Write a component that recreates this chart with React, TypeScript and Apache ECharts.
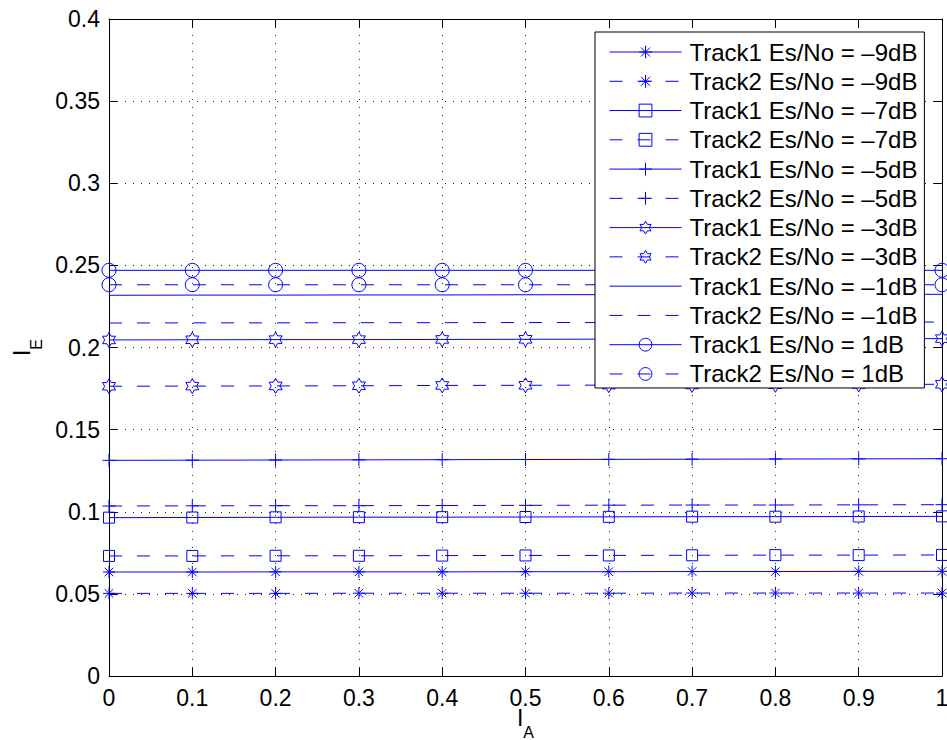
import React, { useEffect, useRef } from 'react';
import * as echarts from 'echarts';

// ---------- data ----------
const IA = [0, 0.1, 0.2, 0.3, 0.4, 0.5, 0.6, 0.7, 0.8, 0.9, 1];

const track1_m9 = [0.0633, 0.0633, 0.0634, 0.0634, 0.0634, 0.0635, 0.0635, 0.0636, 0.0636, 0.0637, 0.0637];
const track2_m9 = [0.0503, 0.0503, 0.0503, 0.0504, 0.0504, 0.0504, 0.0504, 0.0505, 0.0505, 0.0505, 0.0505];
const track1_m7 = [0.0964, 0.0965, 0.0966, 0.0967, 0.0967, 0.0968, 0.0969, 0.097, 0.097, 0.0971, 0.0972];
const track2_m7 = [0.0731, 0.0731, 0.0732, 0.0732, 0.0733, 0.0734, 0.0734, 0.0735, 0.0736, 0.0736, 0.0737];
const track1_m5 = [0.1313, 0.1314, 0.1315, 0.1316, 0.1317, 0.1318, 0.1319, 0.132, 0.1321, 0.1322, 0.1323];
const track2_m5 = [0.1035, 0.1036, 0.1037, 0.1037, 0.1038, 0.1039, 0.104, 0.1041, 0.1041, 0.1042, 0.1043];
const track1_m3 = [0.2046, 0.2047, 0.2048, 0.2048, 0.2049, 0.205, 0.2051, 0.2052, 0.2052, 0.2053, 0.2054];
const track2_m3 = [0.1764, 0.1765, 0.1766, 0.1767, 0.1769, 0.177, 0.1771, 0.1772, 0.1773, 0.1775, 0.1776];
const track1_m1 = [0.2318, 0.2319, 0.2319, 0.232, 0.232, 0.2321, 0.2322, 0.2322, 0.2323, 0.2323, 0.2324];
const track2_m1 = [0.2149, 0.215, 0.215, 0.2151, 0.2151, 0.2152, 0.2152, 0.2153, 0.2154, 0.2154, 0.2155];
const track1_p1 = [0.247, 0.247, 0.247, 0.247, 0.247, 0.247, 0.247, 0.247, 0.247, 0.247, 0.247];
const track2_p1 = [0.2382, 0.2382, 0.2382, 0.2382, 0.2382, 0.2382, 0.2382, 0.2382, 0.2382, 0.2382, 0.2382];

const seriesNames = [
  'Track1 Es/No = –9dB',
  'Track2 Es/No = –9dB',
  'Track1 Es/No = –7dB',
  'Track2 Es/No = –7dB',
  'Track1 Es/No = –5dB',
  'Track2 Es/No = –5dB',
  'Track1 Es/No = –3dB',
  'Track2 Es/No = –3dB',
  'Track1 Es/No = –1dB',
  'Track2 Es/No = –1dB',
  'Track1 Es/No = 1dB',
  'Track2 Es/No = 1dB',
];
const seriesValues = [
  track1_m9, track2_m9, track1_m7, track2_m7, track1_m5, track2_m5,
  track1_m3, track2_m3, track1_m1, track2_m1, track1_p1, track2_p1,
];

// ---------- marker shapes ----------
const ASTERISK = 'path://M6 0L6 12M0 6L12 6M1.76 1.76L10.24 10.24M10.24 1.76L1.76 10.24';
const PLUS = 'path://M6 0L6 12M0 6L12 6';
function hexagramPath(): string {
  const R = 10;
  const r = R / Math.sqrt(3);
  const cx = 10;
  const cy = 10;
  const pts: string[] = [];
  for (let k = 0; k < 12; k++) {
    const ang = ((-90 + k * 30) * Math.PI) / 180;
    const rad = k % 2 === 0 ? R : r;
    pts.push(`${(cx + rad * Math.cos(ang)).toFixed(3)} ${(cy + rad * Math.sin(ang)).toFixed(3)}`);
  }
  // leading moves keep the bounding box square
  return `path://M0 10M20 10M${pts[0]}` + pts.slice(1).map((p) => `L${p}`).join('') + 'Z';
}
const HEXAGRAM = hexagramPath();

const markerFor = [ASTERISK, ASTERISK, 'rect', 'rect', PLUS, PLUS, HEXAGRAM, HEXAGRAM, 'none', 'none', 'circle', 'circle'];
const markerSize = [12, 12, 11, 11, 13, 13, 15, 15, 0, 0, 14, 14];

const BLUE = '#0000ff';
const FONT = "'Liberation Sans', Arial, Helvetica, sans-serif";
const DASH = [13, 15];

export default function App() {
  const ref = useRef<HTMLDivElement>(null);

  useEffect(() => {
    if (!ref.current) return;
    const chart = echarts.init(ref.current, undefined, { renderer: 'svg' });

    const series = seriesNames.map((name, i) => ({
      name,
      type: 'line',
      xAxisIndex: 0,
      yAxisIndex: 0,
      data: IA.map((x, j) => [x, seriesValues[i][j]]),
      symbol: markerFor[i],
      symbolSize: markerSize[i],
      symbolKeepAspect: true,
      showSymbol: markerFor[i] !== 'none',
      color: BLUE,
      lineStyle: { color: BLUE, width: 1, type: i % 2 === 1 ? DASH : 'solid' },
      itemStyle: { color: 'rgba(0,0,0,0)', borderColor: BLUE, borderWidth: 1 },
      emphasis: { disabled: true },
      silent: true,
    }));

    const richName = {
      m: { fontSize: 23, fontFamily: FONT, color: '#000', lineHeight: 18, padding: [0, 0, 11, 0] },
      s: { fontSize: 16, fontFamily: FONT, color: '#000', lineHeight: 12, padding: [17, 0, 0, 0] },
    };

    const legendData = seriesNames.map((name, i) =>
      markerFor[i] === 'none'
        ? { name, itemStyle: { color: 'rgba(0,0,0,0)', borderColor: 'rgba(0,0,0,0)', borderWidth: 0 } }
        : { name }
    );

    const option: any = {
      animation: false,
      backgroundColor: '#fff',
      color: [BLUE],
      textStyle: { fontFamily: FONT },
      grid: { left: 109, right: 5, top: 19, bottom: 64, containLabel: false, outerBoundsMode: 'none' },
      xAxis: [
        {
          type: 'value',
          min: 0,
          max: 1,
          interval: 0.1,
          position: 'bottom',
          name: '{m|I}{s|A}',
          nameLocation: 'middle',
          nameGap: 38.5,
          nameMoveOverlap: false,
          nameTextStyle: { rich: richName },
          axisLine: { show: true, onZero: false, lineStyle: { color: '#000', width: 1 } },
          axisTick: { show: true, inside: true, length: 8, lineStyle: { color: '#000' } },
          axisLabel: { color: '#000', fontSize: 23, fontFamily: FONT, margin: 10 },
          splitLine: { show: true, lineStyle: { color: '#222', width: 1, type: [1, 7] } },
        },
        {
          type: 'value',
          min: 0,
          max: 1,
          interval: 0.1,
          position: 'top',
          axisLine: { show: true, onZero: false, lineStyle: { color: '#000', width: 1 } },
          axisTick: { show: true, inside: true, length: 8, lineStyle: { color: '#000' } },
          axisLabel: { show: false },
          splitLine: { show: false },
        },
      ],
      yAxis: [
        {
          type: 'value',
          min: 0,
          max: 0.4,
          interval: 0.05,
          position: 'left',
          name: '{m|I}{s|E}',
          nameLocation: 'middle',
          nameGap: 72.5,
          nameMoveOverlap: false,
          nameTextStyle: { rich: richName },
          axisLine: { show: true, onZero: false, lineStyle: { color: '#000', width: 1 } },
          axisTick: { show: true, inside: true, length: 8, lineStyle: { color: '#000' } },
          axisLabel: { color: '#000', fontSize: 23, fontFamily: FONT, margin: 9 },
          splitLine: { show: true, lineStyle: { color: '#222', width: 1, type: [1, 7] } },
        },
        {
          type: 'value',
          min: 0,
          max: 0.4,
          interval: 0.05,
          position: 'right',
          axisLine: { show: true, onZero: false, lineStyle: { color: '#000', width: 1 } },
          axisTick: { show: true, inside: true, length: 8, lineStyle: { color: '#000' } },
          axisLabel: { show: false },
          splitLine: { show: false },
        },
      ],
      legend: {
        orient: 'vertical',
        left: 595,
        top: 32,
        padding: [8, 7, 2, 14],
        itemWidth: 72,
        itemHeight: 16,
        itemGap: 5.27,
        backgroundColor: '#fff',
        borderColor: '#000',
        borderWidth: 1,
        borderRadius: 0,
        selectedMode: false,
        textStyle: { fontSize: 24, color: '#000', fontFamily: FONT, lineHeight: 24, padding: [0, 0, 0, 3] },
        itemStyle: { color: 'rgba(0,0,0,0)', borderColor: BLUE, borderWidth: 1 },
        lineStyle: { width: 1, color: BLUE },
        data: legendData,
      },
      series,
    };

    chart.setOption(option);
    return () => chart.dispose();
  }, []);

  return (
    <div
      ref={ref}
      style={{ position: 'absolute', left: 0, top: 0, width: 947, height: 740, background: '#fff' }}
    />
  );
}
